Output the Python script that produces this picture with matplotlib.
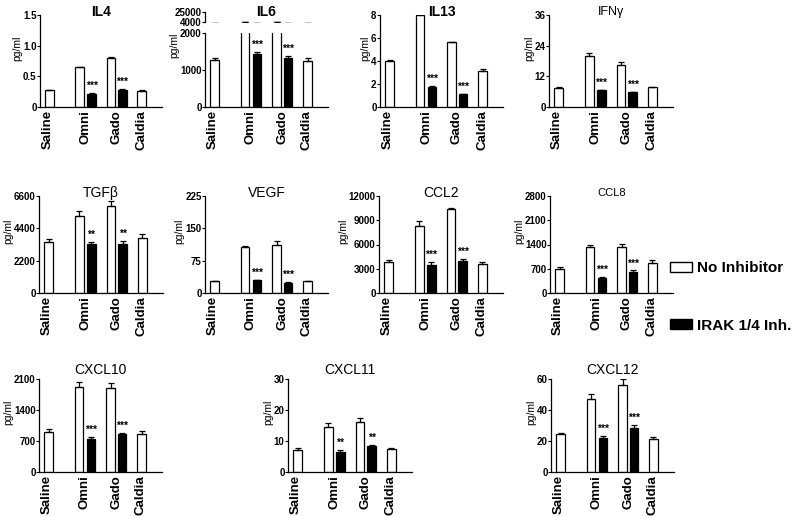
import numpy as np
import matplotlib
matplotlib.use('Agg')
import matplotlib.pyplot as plt
from matplotlib.patches import Patch

plt.rcParams['font.family'] = ['Liberation Sans', 'DejaVu Sans']
plt.rcParams['font.weight'] = 'bold'

# data
groups = ['Saline', 'Omni', 'Gado', 'Caldia']
titles = ['IL4', 'IL6', 'IL13', 'IFNγ', 'TGFβ', 'VEGF', 'CCL2', 'CCL8',
          'CXCL10', 'CXCL11', 'CXCL12']

# no inhibitor: Saline, Omni, Gado, Caldia
no_inh = [[0.27, 0.65, 0.80, 0.26],
          [1260, 4400, 4400, 1250],
          [4.0, 8.0, 5.65, 3.1],
          [7.5, 20.0, 16.5, 8.0],
          [3450, 5250, 5900, 3750],
          [27, 107, 112, 27],
          [3800, 8300, 10400, 3600],
          [700, 1320, 1330, 880],
          [900, 1920, 1900, 866],
          [7.1, 14.6, 16.2, 7.5],
          [24.4, 47.3, 56.0, 21.0]]
no_inh_err = [[0.01, 0.01, 0.02, 0.01],
              [60, 0, 0, 70],
              [0.1, 0.05, 0.0, 0.2],
              [0.5, 1.0, 1.0, 0.0],
              [220, 360, 390, 260],
              [1, 3, 8, 1],
              [250, 600, 100, 250],
              [40, 70, 80, 70],
              [60, 120, 100, 55],
              [0.6, 1.1, 1.1, 0.2],
              [1.0, 3.2, 3.7, 1.3]]

# IRAK 1/4 inhibitor: Omni, Gado
irak = [[0.22, 0.28],
        [1420, 1330],
        [1.75, 1.1],
        [6.5, 5.8],
        [3320, 3350],
        [30, 24],
        [3500, 3900],
        [440, 610],
        [750, 850],
        [6.6, 8.3],
        [22.1, 28.6]]
irak_err = [[0.01, 0.02],
            [70, 60],
            [0.05, 0.05],
            [0.2, 0.2],
            [180, 220],
            [1, 1],
            [300, 300],
            [20, 40],
            [40, 40],
            [0.4, 0.5],
            [0.9, 1.8]]
stars = ['***', '***', '***', '***', '**', '***', '***', '***', '***', '**', '***']

yticks = [[0, 0.5, 1.0, 1.5],
          [0, 1000, 2000],
          [0, 2, 4, 6, 8],
          [0, 12, 24, 36],
          [0, 2200, 4400, 6600],
          [0, 75, 150, 225],
          [0, 3000, 6000, 9000, 12000],
          [0, 700, 1400, 2100, 2800],
          [0, 700, 1400, 2100],
          [0, 10, 20, 30],
          [0, 20, 40, 60]]
ytick_labels = [['0', '0.5', '1.0', '1.5']] + [None] * 10
il6_upper_ticks = [4000, 25000]

# layout (pixels)
W, H = 795, 516
rows = [(15, 107), (196, 293), (379, 472)]
cols = [[(40, 162), (205, 328), (380, 503), (549, 673)],
        [(39, 163), (205, 328), (379, 503), (550, 673)],
        [(39, 162), (288, 412), (551, 674)]]
title_pad = [3, 3, 9]
title_size = [10, 10, 10, 9, 10, 10, 10, 8, 10, 10, 10]
title_weight = ['bold', 'bold', 'bold'] + ['normal'] * 8
il6_lower_top = 33
il6_upper = (12, 22)

white_x = [9.5, 40, 71.5, 102.5]
black_x = [52, 83]
label_x = [8, 46, 77, 102]
bw = 8.5

fig = plt.figure(figsize=(W / 100, H / 100), dpi=100)


def add_ax(x0, x1, y0, y1):
    return fig.add_axes([x0 / W, 1 - y1 / H, (x1 - x0) / W, (y1 - y0) / H])


def style(ax, left_only=False):
    ax.spines['top'].set_visible(False)
    ax.spines['right'].set_visible(False)
    for s in ['left', 'bottom']:
        ax.spines[s].set_linewidth(0.9)
    if left_only:
        ax.spines['bottom'].set_visible(False)
    ax.tick_params(axis='y', length=2, width=0.8, pad=0.5, labelsize=7)
    ax.tick_params(axis='x', length=0, pad=2, labelsize=9.5)
    ax.set_xlim(0, 123)


def draw_bars(ax, i):
    ax.bar(white_x, no_inh[i], width=bw, color='white', edgecolor='black', linewidth=0.9, zorder=2)
    ax.bar(black_x, irak[i], width=bw, color='black', edgecolor='black', linewidth=0.9, zorder=2)
    ax.errorbar(white_x, no_inh[i], yerr=[np.zeros(4), no_inh_err[i]], fmt='none',
                ecolor='black', elinewidth=0.9, capsize=2.5, capthick=0.9, zorder=3)
    ax.errorbar(black_x, irak[i], yerr=[np.zeros(2), irak_err[i]], fmt='none',
                ecolor='black', elinewidth=0.9, capsize=2.5, capthick=0.9, zorder=3)


i = 0
for r, (y0, y1) in enumerate(rows):
    for (x0, x1) in cols[r]:
        top_px = il6_lower_top if i == 1 else y0
        ax = add_ax(x0, x1, top_px, y1)
        style(ax)
        draw_bars(ax, i)
        ax.set_ylim(yticks[i][0], yticks[i][-1])
        ax.set_yticks(yticks[i])
        if ytick_labels[i] is not None:
            ax.set_yticklabels(ytick_labels[i])
        ax.set_xticks(label_x)
        ax.set_xticklabels(groups, rotation=90)
        ax.set_ylabel('pg/ml', fontsize=7.5, labelpad=0.5, y=0.84 if i == 1 else 0.64)
        for k in range(2):
            ax.annotate(stars[i], (black_x[k], irak[i][k] + irak_err[i][k]),
                        xytext=(0, 1.5), textcoords='offset points',
                        ha='center', va='bottom', fontsize=7.5)
        if i == 1:
            # broken axis for IL6
            top = add_ax(x0, x1, il6_upper[0], il6_upper[1])
            style(top, left_only=True)
            top.patch.set_visible(False)
            draw_bars(top, i)
            top.set_ylim(il6_upper_ticks[0], il6_upper_ticks[-1])
            top.set_yticks(il6_upper_ticks)
            top.set_xticks([])
            fig.text((x0 + x1) / 2 / W, 1 - 11.5 / H, titles[i], ha='center', va='center',
                     fontsize=title_size[i], fontweight=title_weight[i])
        else:
            ax.text(0.5, 1 + title_pad[r] / (y1 - y0), titles[i], transform=ax.transAxes,
                    ha='center', va='center', fontsize=title_size[i], fontweight=title_weight[i])
        i += 1

handles = [Patch(facecolor='white', edgecolor='black', linewidth=1.0),
           Patch(facecolor='black', edgecolor='black', linewidth=1.0)]
fig.legend(handles, ['No Inhibitor', 'IRAK 1/4 Inh.'], loc='upper left',
           bbox_to_anchor=(670 / W, 1 - 261 / H), frameon=False, borderpad=0,
           borderaxespad=0, handlelength=1.45, handleheight=0.65, handletextpad=0.3,
           labelspacing=2.85, prop={'weight': 'bold', 'size': 11})

fig.savefig('out.png', dpi=100)
